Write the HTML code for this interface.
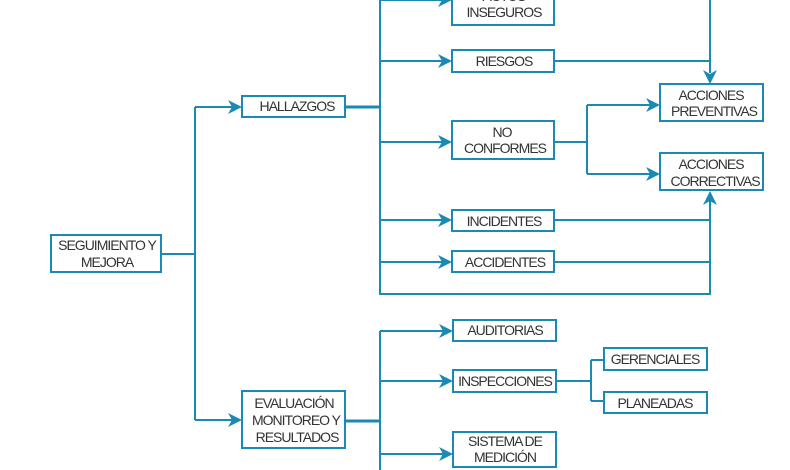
<!DOCTYPE html>
<html><head><meta charset="utf-8"><style>
html,body{margin:0;padding:0;background:#fff;}
svg{display:block;}
text{font-family:"Liberation Sans",sans-serif;font-size:14px;fill:#333;text-anchor:middle;letter-spacing:-1px;}
rect{fill:#fff;stroke:#1a8ab4;stroke-width:2;}
.l{stroke:#1a8ab4;stroke-width:2;fill:none;}
.a{fill:#1a8ab4;}
</style></head><body>
<svg width="790" height="470" viewBox="0 0 790 470" xmlns="http://www.w3.org/2000/svg">
<defs>
<path id="ar" class="a" d="M0,0 L-14,-7 L-10,0 L-14,7 Z"/>
</defs>
<path class="l" d="M161,254 H195 M195,107 V420 M195,107 H232 M195,420 H232"/>
<path class="l" d="M380,0 V294 H710 V200"/>
<path class="l" d="M345,107 H380" style="stroke-width:3"/>
<path class="l" d="M380,0 H442 M380,61 H442 M380,142 H442 M380,220 H442 M380,262 H442"/>
<path class="l" d="M554,61 H710 M710,0 V73"/>
<path class="l" d="M554,142 H587 M587,105 V174 M587,105 H650 M587,174 H650"/>
<path class="l" d="M554,220 H710 M554,262 H710"/>
<path class="l" d="M345,421 H380" style="stroke-width:3"/>
<path class="l" d="M380,331 V470 M380,331 H443 M380,381 H443 M380,454 H443"/>
<path class="l" d="M556,381 H591 M591,360 V401 M591,360 H604 M591,401 H604"/>
<use href="#ar" x="242" y="107"/>
<use href="#ar" x="242" y="420"/>
<use href="#ar" x="452" y="0"/>
<use href="#ar" x="452" y="61"/>
<use href="#ar" x="452" y="142"/>
<use href="#ar" x="452" y="220"/>
<use href="#ar" x="452" y="262"/>
<use href="#ar" x="660" y="105"/>
<use href="#ar" x="660" y="174"/>
<use href="#ar" x="453" y="331"/>
<use href="#ar" x="453" y="381"/>
<use href="#ar" x="453" y="454"/>
<path class="a" d="M710,84 L703,70 L710,74 L717,70 Z"/>
<path class="a" d="M710,191 L703,205 L710,201 L717,205 Z"/>
<rect x="51" y="235" width="110" height="37"/>
<text x="107" y="250">SEGUIMIENTO Y</text><text x="107" y="267">MEJORA</text>
<rect x="242" y="96" width="103" height="21"/>
<text x="297" y="111">HALLAZGOS</text>
<rect x="242" y="391" width="103" height="57"/>
<text x="294" y="408">EVALUACIÓN</text><text x="296" y="425">MONITOREO Y</text><text x="297" y="442">RESULTADOS</text>
<rect x="452" y="-14" width="102" height="39"/>
<text x="504" y="1">ACTOS</text><text x="504" y="17">INSEGUROS</text>
<rect x="452" y="50" width="102" height="22"/>
<text x="504" y="66">RIESGOS</text>
<rect x="452" y="121" width="102" height="38"/>
<text x="502" y="137">NO</text><text x="505" y="153">CONFORMES</text>
<rect x="452" y="210" width="102" height="21"/>
<text x="504" y="226">INCIDENTES</text>
<rect x="452" y="251" width="102" height="21"/>
<text x="505" y="267">ACCIDENTES</text>
<rect x="660" y="84" width="103" height="37"/>
<text x="711" y="100">ACCIONES</text><text x="714" y="116">PREVENTIVAS</text>
<rect x="660" y="153" width="103" height="37"/>
<text x="711" y="169">ACCIONES</text><text x="715" y="186">CORRECTIVAS</text>
<rect x="453" y="320" width="103" height="21"/>
<text x="505" y="335">AUDITORIAS</text>
<rect x="453" y="370" width="103" height="22"/>
<text x="505" y="386">INSPECCIONES</text>
<rect x="453" y="432" width="103" height="35"/>
<text x="505" y="446">SISTEMA DE</text><text x="505" y="462">MEDICIÓN</text>
<rect x="604" y="348" width="103" height="22"/>
<text x="655" y="364">GERENCIALES</text>
<rect x="604" y="392" width="103" height="21"/>
<text x="655" y="408">PLANEADAS</text>
</svg>
</body></html>
